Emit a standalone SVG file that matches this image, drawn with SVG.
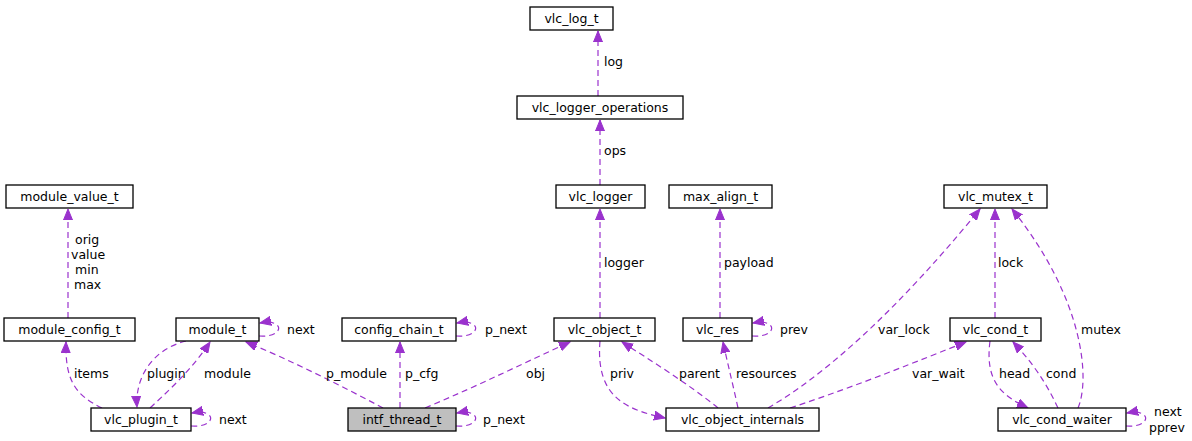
<svg xmlns="http://www.w3.org/2000/svg" width="1192" height="441" viewBox="0 0 1192 441">
<style>
.n rect{fill:#fff;stroke:#000;stroke-width:1.3}
.n.g rect{fill:#bfbfbf}
text{font-family:"DejaVu Sans",sans-serif;font-size:12.5px;fill:#000}
.n text{text-anchor:middle}
#edges path{fill:none;stroke:#9a32cd;stroke-width:1.2;stroke-dasharray:6,4;marker-end:url(#a)}
</style>
<defs><marker id="a" markerWidth="12" markerHeight="10" refX="11" refY="5" orient="auto" markerUnits="userSpaceOnUse"><path d="M0,0.5 L11,5 L0,9.5 z" fill="#9a32cd" stroke="#9a32cd"/></marker></defs>
<rect width="1192" height="441" fill="#fff"/>
<g id="edges">
<path d="M598,96 V31"/>
<path d="M600,185 V120"/>
<path d="M600,318 V209"/>
<path d="M720,318 V209"/>
<path d="M995,318 V209"/>
<path d="M1078,408 C1090,380 1085,300 1012,209"/>
<path d="M768,408 C850,360 930,270 980,209"/>
<path d="M790,408 C860,385 920,360 966,342"/>
<path d="M990,341 C985,380 1000,395 1028,408"/>
<path d="M1058,408 C1045,380 1030,360 1013,342"/>
<path d="M738,408 C733,385 728,365 723,342"/>
<path d="M718,408 C690,385 650,360 622,342"/>
<path d="M600,341 C595,400 630,410 665,418"/>
<path d="M425,408 C480,385 530,360 570,342"/>
<path d="M400,408 V342"/>
<path d="M383,408 C340,385 290,360 246,342"/>
<path d="M150,408 C175,385 195,365 210,342"/>
<path d="M186,341 C150,350 135,380 137,407"/>
<path d="M102,408 C75,395 65,380 66,342"/>
<path d="M68,318 V209"/>
<path d="M259,336 C285,338 285,318 260,323"/>
<path d="M456,336 C482,338 482,318 457,323"/>
<path d="M752,336 C778,338 778,318 753,323"/>
<path d="M191,426 C217,428 217,408 192,413"/>
<path d="M456,426 C482,428 482,408 457,413"/>
<path d="M1126,426 C1152,428 1152,408 1127,413"/>
</g>
<g>
<text x="604" y="66">log</text>
<text x="604" y="155">ops</text>
<text x="604" y="267">logger</text>
<text x="724" y="267">payload</text>
<text x="998" y="267">lock</text>
<text x="1081" y="334">mutex</text>
<text x="878" y="334">var_lock</text>
<text x="912" y="378">var_wait</text>
<text x="999" y="378">head</text>
<text x="1046" y="378">cond</text>
<text x="1154" y="416">next</text>
<text x="1149" y="432">pprev</text>
<text x="736" y="378">resources</text>
<text x="679" y="378">parent</text>
<text x="610" y="378">priv</text>
<text x="526" y="378">obj</text>
<text x="405" y="378">p_cfg</text>
<text x="326" y="378">p_module</text>
<text x="483" y="424">p_next</text>
<text x="204" y="378">module</text>
<text x="147" y="378">plugin</text>
<text x="74" y="378">items</text>
<text x="75" y="244">orig</text>
<text x="71" y="259">value</text>
<text x="75" y="274">min</text>
<text x="74" y="289">max</text>
<text x="287" y="334">next</text>
<text x="485" y="334">p_next</text>
<text x="780" y="334">prev</text>
<text x="219" y="424">next</text>
</g>
<g id="vlc_log_t" class="n"><rect x="530" y="7" width="83" height="23"/><text x="571.5" y="23">vlc_log_t</text></g>
<g id="vlc_logger_operations" class="n"><rect x="517" y="96" width="166" height="23"/><text x="600" y="112">vlc_logger_operations</text></g>
<g id="vlc_logger" class="n"><rect x="556" y="185" width="89" height="23"/><text x="600.5" y="201">vlc_logger</text></g>
<g id="module_value_t" class="n"><rect x="6" y="185" width="127" height="23"/><text x="69.5" y="201">module_value_t</text></g>
<g id="max_align_t" class="n"><rect x="669" y="185" width="103" height="23"/><text x="720.5" y="201">max_align_t</text></g>
<g id="vlc_mutex_t" class="n"><rect x="944" y="185" width="103" height="23"/><text x="995.5" y="201">vlc_mutex_t</text></g>
<g id="module_config_t" class="n"><rect x="4" y="318" width="131" height="23"/><text x="69.5" y="334">module_config_t</text></g>
<g id="module_t" class="n"><rect x="176" y="318" width="83" height="23"/><text x="217.5" y="334">module_t</text></g>
<g id="config_chain_t" class="n"><rect x="342" y="318" width="114" height="23"/><text x="399" y="334">config_chain_t</text></g>
<g id="vlc_object_t" class="n"><rect x="554" y="318" width="101" height="23"/><text x="604.5" y="334">vlc_object_t</text></g>
<g id="vlc_res" class="n"><rect x="683" y="318" width="69" height="23"/><text x="717.5" y="334">vlc_res</text></g>
<g id="vlc_cond_t" class="n"><rect x="950" y="318" width="91" height="23"/><text x="995.5" y="334">vlc_cond_t</text></g>
<g id="vlc_plugin_t" class="n"><rect x="91" y="408" width="100" height="23"/><text x="141" y="424">vlc_plugin_t</text></g>
<g id="intf_thread_t" class="n g"><rect x="348" y="408" width="108" height="23"/><text x="402" y="424">intf_thread_t</text></g>
<g id="vlc_object_internals" class="n"><rect x="666" y="408" width="153" height="23"/><text x="742.5" y="424">vlc_object_internals</text></g>
<g id="vlc_cond_waiter" class="n"><rect x="998" y="408" width="128" height="23"/><text x="1062" y="424">vlc_cond_waiter</text></g>
</svg>
